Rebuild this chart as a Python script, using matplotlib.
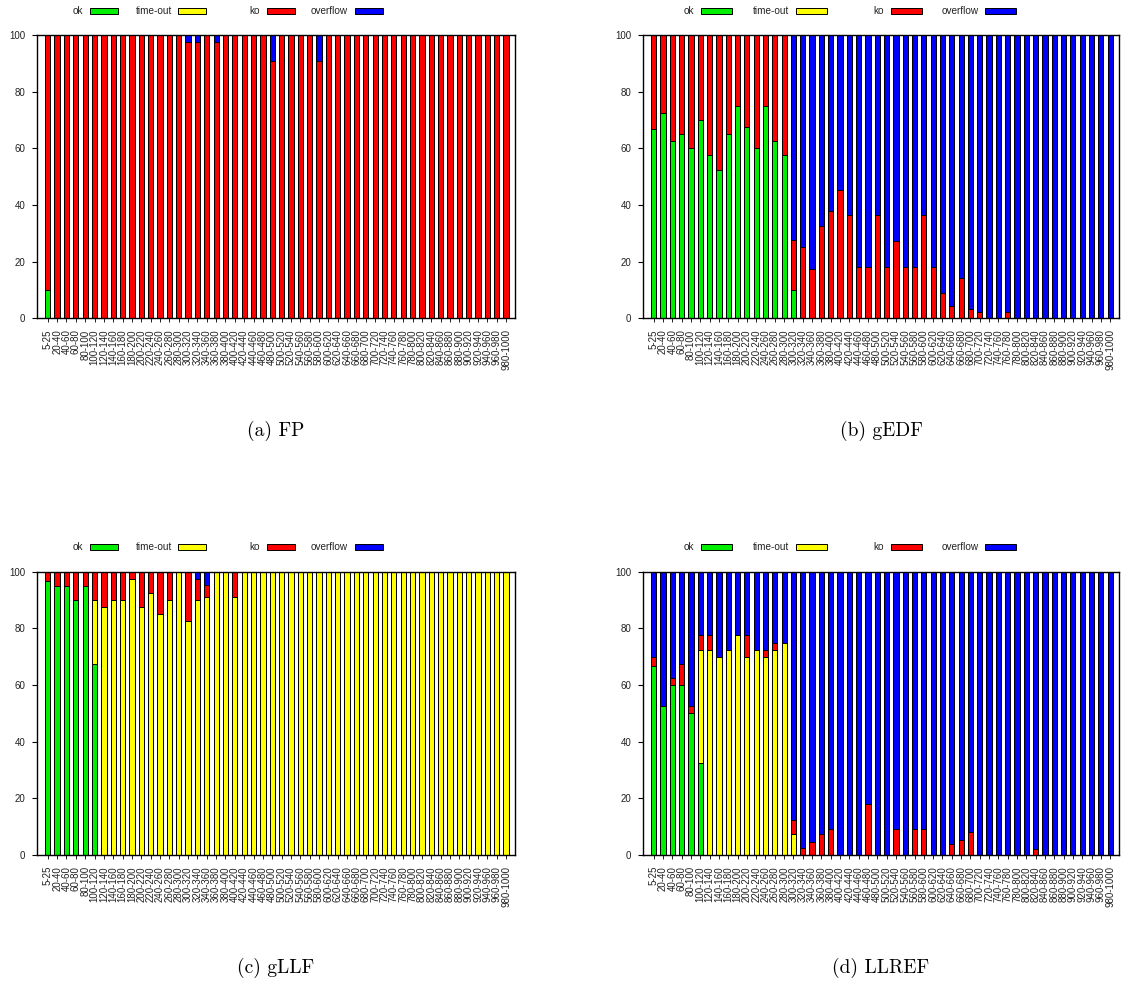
import numpy as np
import matplotlib.pyplot as plt
from matplotlib.patches import Rectangle

plt.rcParams['font.family'] = ['Liberation Sans', 'DejaVu Sans']

# categories (task set sizes)
labels = ['5-25'] + ['%d-%d' % (20 * k, 20 * k + 20) for k in range(1, 50)]

# (a) FP
fp_ok = [10] + [0] * 49
fp_to = [0] * 50
fp_ko = [90] + [100] * 14 + [97.5, 97.5, 100, 97.5] + [100] * 5 + [90.9] + [100] * 4 + [90.9] + [100] * 20
fp_over = [0] * 15 + [2.5, 2.5, 0, 2.5] + [0] * 5 + [9.1] + [0] * 4 + [9.1] + [0] * 20

# (b) gEDF
gedf_ok = [66.7, 72.5, 62.5, 65, 60, 70, 57.5, 52.5, 65, 75, 67.5, 60, 75, 62.5, 57.5, 10] + [0] * 34
gedf_to = [0] * 50
gedf_ko = [33.3, 27.5, 37.5, 35, 40, 30, 42.5, 47.5, 35, 25, 32.5, 40, 25, 37.5, 42.5,
           17.5, 25, 17.5, 32.5, 38, 45.4, 36.4, 18.2, 18.2, 36.4, 18.2, 27.3, 18.2, 18.2,
           36.4, 18.2, 9.1, 4.3, 14.4, 3.3, 2.3, 0, 0, 2.2] + [0] * 11
gedf_over = [0] * 15 + [72.5, 75, 82.5, 67.5, 62, 54.6, 63.6, 81.8, 81.8, 63.6, 81.8, 72.7,
                        81.8, 81.8, 63.6, 81.8, 90.9, 95.7, 85.6, 96.7, 97.7, 100, 100, 97.8] + [100] * 11

# (c) gLLF
gllf_ok = [96.7, 95, 95, 90, 95, 67.5] + [0] * 44
gllf_to = [0] * 5 + [22.5, 87.5, 90, 90, 97.5, 87.5, 92.5, 85, 90, 100, 82.5, 90, 90.9, 100, 100, 90.9] + [100] * 29
gllf_ko = [3.3, 5, 5, 10, 5, 10, 12.5, 10, 10, 2.5, 12.5, 7.5, 15, 10, 0, 17.5, 7.5, 4.5, 0, 0, 9.1] + [0] * 29
gllf_over = [0] * 16 + [2.5, 4.6] + [0] * 32

# (d) LLREF
llref_ok = [66.7, 52.5, 60, 60, 50, 32.5] + [0] * 44
llref_to = [0] * 5 + [40, 72.5, 70, 72.5, 77.5, 70, 72.5, 70, 72.5, 75, 7.5] + [0] * 34
llref_ko = [3.3, 0, 2.5, 7.5, 2.5, 5, 5, 0, 0, 0, 7.5, 0, 2.5, 2.5, 0, 5, 2.5, 4.7, 7.4, 9.1,
            0, 0, 0, 18, 0, 0, 9.1, 0, 9.1, 9.1, 0, 0, 3.8, 5.4, 8.1, 0, 0, 0, 0, 0, 0, 2.2] + [0] * 8
llref_over = [30, 47.5, 37.5, 32.5, 47.5, 22.5, 22.5, 30, 27.5, 22.5, 22.5, 27.5, 27.5, 25, 25,
              87.5, 97.5, 95.3, 92.6, 90.9, 100, 100, 100, 82, 100, 100, 90.9, 100, 90.9, 90.9,
              100, 100, 96.2, 94.6, 91.9, 100, 100, 100, 100, 100, 100, 97.8] + [100] * 8

series_names = ['ok', 'time-out', 'ko', 'overflow']
colors = ['#00ee00', '#ffff00', '#ff0000', '#0000ff']

W, H = 1122, 1007
fig = plt.figure(figsize=(W / 100, H / 100), dpi=100)


def pbox(l, t, r, b):
    return [l / W, 1 - b / H, (r - l) / W, (b - t) / H]


panels = [
    ('(a) FP', (37, 35, 515, 318.3), [fp_ok, fp_to, fp_ko, fp_over], 'a'),
    ('(b) gEDF', (643, 35, 1119, 318.3), [gedf_ok, gedf_to, gedf_ko, gedf_over], 'b'),
    ('(c) gLLF', (37, 571.7, 515, 855), [gllf_ok, gllf_to, gllf_ko, gllf_over], 'a'),
    ('(d) LLREF', (643, 571.7, 1119, 855), [llref_ok, llref_to, llref_ko, llref_over], 'b'),
]

# legend layout (pixel offsets from axes left): text right edge, box left, box width
leg_a = ([46, 135, 223, 311], [53, 141, 230, 318], 28)
leg_b = ([51, 146, 241, 336], [58, 153, 248, 342], 30.5)

x = np.arange(len(labels))
for caption, rect, data, style in panels:
    l, t, r, b = rect
    ax = fig.add_axes(pbox(l, t, r, b))
    bottom = np.zeros(len(labels))
    for vals, c in zip(data, colors):
        vals = np.array(vals, dtype=float)
        ax.bar(x, vals, 0.56, bottom=bottom, color=c, edgecolor='black', linewidth=0.7)
        bottom += vals
    ax.set_xlim(-1.15, 49.95)
    ax.set_ylim(0, 100)
    ax.set_yticks([0, 20, 40, 60, 80, 100])
    ax.set_xticks(x)
    ax.set_xticklabels(labels, rotation=90, fontsize=7, color='#222222')
    ax.tick_params(axis='y', labelsize=7, length=3.5, width=0.8, pad=5, direction='out', labelcolor='#222222')
    ax.tick_params(axis='x', length=3, width=0.6, pad=5, direction='out')
    for s in ax.spines.values():
        s.set_linewidth(1.0)

    # legend row above the axes
    txt_r, box_l, box_w = leg_a if style == 'a' else leg_b
    yc = t - 24.3
    for name, c, tr, bl in zip(series_names, colors, txt_r, box_l):
        fig.text((l + tr) / W, 1 - yc / H, name, ha='right', va='center', fontsize=7.2, color='#222222')
        fig.patches.append(Rectangle(((l + bl) / W, 1 - (yc + 3) / H), box_w / W, 6 / H,
                                     transform=fig.transFigure, facecolor=c, edgecolor='black',
                                     linewidth=0.7))

    # sub-caption
    fig.text((l + r) / 2 / W, 1 - (b + 113) / H, caption, ha='center', va='center',
             fontsize=14, family='cmr10')

fig.savefig('out.png', dpi=100)
